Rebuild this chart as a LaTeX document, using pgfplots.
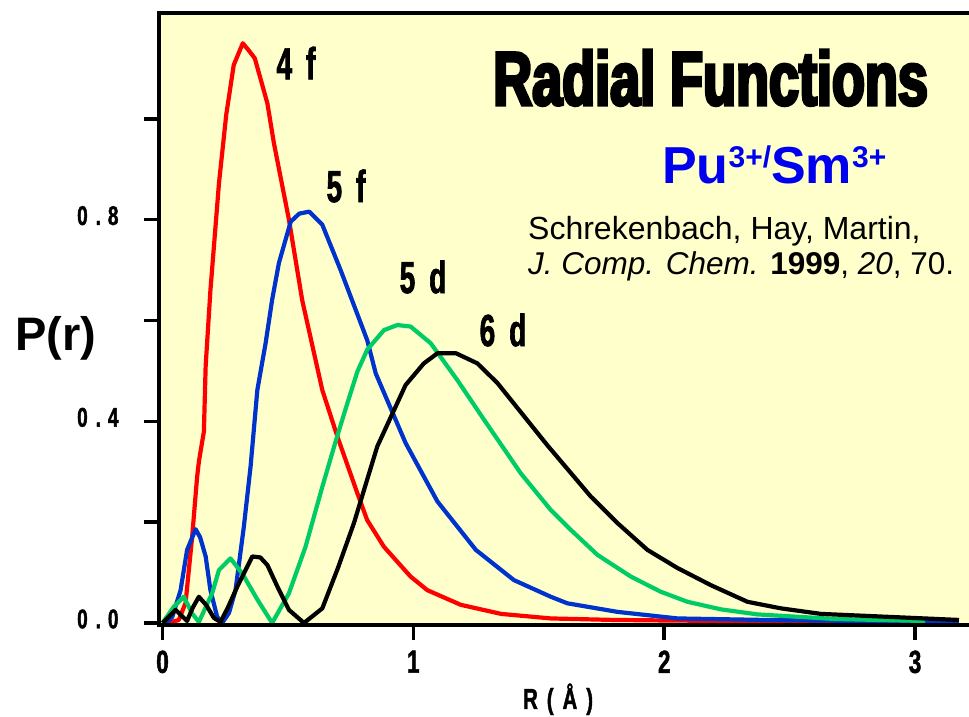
\documentclass[border=0pt]{standalone}
\usepackage{pgfplots}
\pgfplotsset{compat=1.18}
\usepackage{fontspec}
\setmainfont{Liberation Sans}
\newfontfamily\condfont[FakeStretch=0.62,FakeBold=1.5]{Liberation Sans Bold}
\newfontfamily\tickfont[FakeStretch=0.7,FakeBold=1.5]{Liberation Sans Bold}
\newfontfamily\impactfont[FakeStretch=0.71,FakeBold=4]{Liberation Sans Bold}
\definecolor{bgyellow}{HTML}{FFFFCC}
\definecolor{cred}{HTML}{FF0000}
\definecolor{cblue}{HTML}{0033CC}
\definecolor{cgreen}{HTML}{00CC66}
\definecolor{tblue}{HTML}{0000F0}
\begin{document}
\begin{tikzpicture}
\useasboundingbox (0,0) rectangle (969pt,717pt);
\begin{axis}[
  name=ax,
  at={(159pt,92pt)}, anchor=south west,
  width=810pt, height=612pt, scale only axis,
  xmin=-0.014, xmax=3.215, ymin=-0.004, ymax=1.21,
  axis background/.style={fill=bgyellow},
  axis line style={draw=none},
  tick pos=left, tick align=outside,
  major tick length=15pt,
  tick style={line width=3.5pt, black},
  xtick={0,1,2,3}, xticklabels={0,1,2,3},
  ytick={0,0.2,0.4,0.6,0.8,1.0},
  yticklabels={0\hspace{8pt}.\hspace{7pt}0,,0\hspace{8pt}.\hspace{7pt}4,,0\hspace{8pt}.\hspace{7pt}8,},
  yticklabel style={font=\tickfont\fontsize{27}{27}\selectfont, anchor=east, xshift=-22pt, yshift=4pt},
  xticklabel style={font=\tickfont\fontsize{32}{32}\selectfont, anchor=north, yshift=-7pt},
  clip=false,
  every axis plot/.append style={line width=4.2pt, line join=round, mark=none},
]
% 4f
\addplot[cred] coordinates {
(0,0) (0.03,0.001) (0.065,0.006) (0.092,0.04) (0.118,0.17) (0.138,0.29) (0.145,0.32)
(0.165,0.38) (0.172,0.51) (0.191,0.66) (0.225,0.872) (0.254,1.008) (0.284,1.107)
(0.320,1.150) (0.345,1.135) (0.368,1.12) (0.418,1.031) (0.444,0.952) (0.504,0.80)
(0.557,0.64) (0.637,0.462) (0.697,0.37) (0.777,0.257) (0.816,0.204) (0.883,0.151)
(0.989,0.092) (1.056,0.065) (1.189,0.036) (1.35,0.018) (1.548,0.009) (1.8,0.006)
(2.0,0.005) (2.5,0.003) (3.04,0.002)};
% 5f
\addplot[cblue] coordinates {
(0,0) (0.02,0.003) (0.039,0.012) (0.072,0.065) (0.098,0.145) (0.132,0.186) (0.15,0.17)
(0.172,0.132) (0.191,0.065) (0.218,0.012) (0.238,0.0) (0.265,0.02) (0.291,0.065)
(0.324,0.19) (0.351,0.31) (0.378,0.462) (0.411,0.555) (0.437,0.641) (0.464,0.714)
(0.511,0.796) (0.545,0.812) (0.585,0.816) (0.637,0.790) (0.710,0.700) (0.816,0.561)
(0.850,0.495) (0.969,0.357) (1.096,0.241) (1.249,0.145) (1.401,0.085) (1.548,0.052)
(1.614,0.039) (1.814,0.022) (2.053,0.009) (2.4,0.006) (2.8,0.004) (3.175,0.003)};
% 5d
\addplot[cgreen] coordinates {
(0,0) (0.045,0.032) (0.085,0.052) (0.118,0.019) (0.145,0.002) (0.198,0.059) (0.225,0.105)
(0.271,0.128) (0.318,0.098) (0.38,0.045) (0.437,0.0) (0.504,0.059) (0.570,0.151)
(0.637,0.270) (0.69,0.36) (0.737,0.436) (0.777,0.499) (0.816,0.542) (0.883,0.581)
(0.936,0.591) (0.989,0.588) (1.069,0.555) (1.175,0.482) (1.282,0.403) (1.428,0.297)
(1.548,0.224) (1.627,0.185) (1.734,0.135) (1.867,0.092) (1.986,0.062) (2.093,0.042)
(2.226,0.027) (2.372,0.017) (2.678,0.008) (3.04,0.004)};
% 6d
\addplot[black] coordinates {
(0,0) (0.039,0.019) (0.052,0.026) (0.075,0.015) (0.098,0.004) (0.12,0.03) (0.145,0.052)
(0.175,0.035) (0.205,0.01) (0.231,0.002) (0.26,0.03) (0.298,0.072) (0.358,0.132)
(0.39,0.13) (0.418,0.115) (0.46,0.07) (0.504,0.026) (0.564,0.0) (0.637,0.029)
(0.70,0.11) (0.763,0.198) (0.856,0.350) (0.969,0.472) (1.042,0.515) (1.096,0.535)
(1.17,0.535) (1.255,0.515) (1.335,0.476) (1.535,0.352) (1.707,0.251) (1.814,0.198)
(1.933,0.145) (2.053,0.109) (2.186,0.075) (2.332,0.042) (2.465,0.029) (2.625,0.018)
(3.175,0.006)};
\end{axis}
\draw[line width=4.5pt, line cap=rect] (ax.north east) -- (ax.north west) -- (ax.south west) -- (ax.south east);
% labels
\node[font=\condfont\fontsize{45}{45}\selectfont] at (296pt,654pt) {4\hspace{14pt}f};
\node[font=\condfont\fontsize{45}{45}\selectfont] at (346pt,531pt) {5\hspace{14pt}f};
\node[font=\condfont\fontsize{45}{45}\selectfont] at (423pt,440pt) {5\hspace{14pt}d};
\node[font=\condfont\fontsize{45}{45}\selectfont] at (503pt,387pt) {6\hspace{14pt}d};
\node[anchor=base west, inner sep=0pt, font=\impactfont\fontsize{76}{76}\selectfont] at (493pt,612pt) {Radial Functions};
\node[anchor=base west, inner sep=0pt, text=tblue, font=\bfseries\fontsize{52}{52}\selectfont] at (662pt,533pt)
  {Pu\raisebox{16pt}{\fontsize{30}{30}\selectfont 3+/}Sm\raisebox{16pt}{\fontsize{30}{30}\selectfont 3+}};
\node[anchor=base west, inner sep=0pt, font=\fontsize{32}{32}\selectfont] at (528pt,477pt) {Schrekenbach, Hay, Martin,};
\node[anchor=base west, inner sep=0pt, font=\fontsize{31.5}{31.5}\selectfont] at (528pt,442pt) {\textit{J. Comp. Chem.} \textbf{1999}, \textit{20}, 70.};
\node[anchor=base west, inner sep=0pt, font=\bfseries\fontsize{47}{47}\selectfont] at (15pt,366pt) {P(r)};
\node[anchor=base west, inner sep=0pt, font=\tickfont\fontsize{29}{29}\selectfont] at (523pt,8pt) {R\hspace{9pt}(\hspace{9pt}Å\hspace{9pt})};
\end{tikzpicture}
\end{document}
